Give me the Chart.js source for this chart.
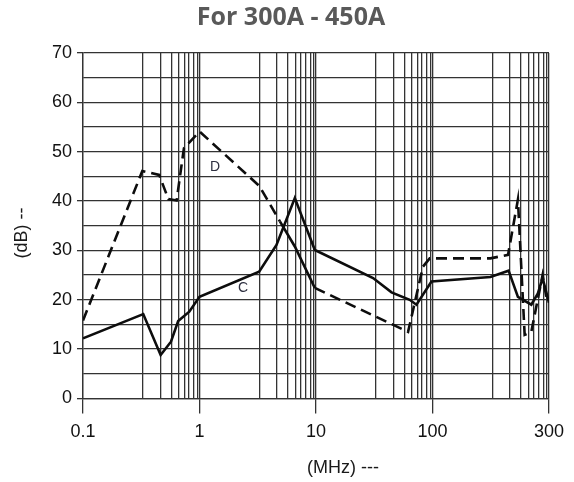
<!DOCTYPE html>
<html>
<head>
<meta charset="utf-8">
<script src="https://cdn.jsdelivr.net/npm/chart.js@4.4.1/dist/chart.umd.min.js"></script>
<style>
  html, body { margin: 0; padding: 0; background: #ffffff; }
  #wrap { width: 574px; height: 482px; }
</style>
</head>
<body>
<div id="wrap"><canvas id="c" width="574" height="482"></canvas></div>
<script>
// ---- data ----
const chartTitle = 'For 300A - 450A';
const xAxisTitle = '(MHz) ---';
const yAxisTitle = '(dB) --';

// x tick values (log scale) and their printed labels
const xMajorTicks = [0.1, 1, 10, 100, 1000];
const xTickLabels = ['0.1', '1', '10', '100', '300'];
// positions of minor grid lines inside each decade (fraction of decade)
const xMinorFractions = [0.515, 0.665, 0.76, 0.825, 0.87, 0.91, 0.95, 0.98];

// curve C (solid)
const freqC = [0.1, 0.329, 0.464, 0.569, 0.656, 0.817, 1.0, 3.25, 4.58, 6.58, 9.77, 30.9, 44.5, 63.7, 72.8, 98, 314, 450, 541, 705, 803, 881, 1000];
const valC  = [12.2, 17.1, 8.8, 11.5, 15.7, 17.6, 20.6, 25.7, 31.1, 40.6, 30.1, 24.4, 21.5, 20.0, 19.0, 23.7, 24.6, 25.9, 20.6, 19.0, 21.3, 24.4, 19.4];

// curve D (dashed)
const freqD = [0.1, 0.323, 0.451, 0.54, 0.636, 0.735, 1.0, 3.25, 4.9, 6.58, 9.77, 61.7, 82.8, 94.6, 314, 445, 541, 618, 705, 881, 950, 1000];
const valD  = [15.8, 46.1, 45.3, 40.4, 40.1, 50.7, 54.1, 43.1, 35.9, 30.8, 22.4, 13.5, 26.7, 28.4, 28.4, 29.1, 40.3, 12.9, 13.5, 25.0, 20.5, 19.8];
// frequency range where curve D is drawn solid
const solidRangeD = [4.9, 9.77];

// curve labels (data coordinates)
const curveLabels = [
  { text: 'D', f: 1.36, v: 46.8 },
  { text: 'C', f: 2.36, v: 22.4 }
];

// ---- chart ----
const GRID = '#333333';
const FONT = '"Liberation Sans", Arial, sans-serif';

function isMajor(v) {
  return xMajorTicks.some(m => Math.abs(m - v) / m < 1e-6);
}

const textPlugin = {
  id: 'textPlugin',
  afterDraw(chart) {
    const ctx = chart.ctx;
    const xs = chart.scales.x, ys = chart.scales.y;
    ctx.save();
    // title
    ctx.fillStyle = '#595959';
    ctx.font = 'bold 25px "Open Sans", sans-serif';
    ctx.textAlign = 'center';
    ctx.textBaseline = 'middle';
    ctx.fillText(chartTitle, 291, 18);
    // x axis title
    ctx.fillStyle = '#1a1a1a';
    ctx.font = '18px ' + FONT;
    ctx.fillText(xAxisTitle, 343, 468);
    // y axis title
    ctx.save();
    ctx.translate(22, 233);
    ctx.rotate(-Math.PI / 2);
    ctx.fillText(yAxisTitle, 0, 0);
    ctx.restore();
    // curve labels
    ctx.fillStyle = '#2e3040';
    ctx.font = '14px ' + FONT;
    curveLabels.forEach(l => {
      ctx.fillText(l.text, xs.getPixelForValue(l.f), ys.getPixelForValue(l.v));
    });
    ctx.restore();
  }
};

new Chart(document.getElementById('c'), {
  type: 'line',
  data: {
    datasets: [
      {
        label: 'C',
        data: freqC.map((f, i) => ({ x: f, y: valC[i] })),
        borderColor: '#0d0d0d',
        borderWidth: 2.6,
        pointRadius: 0,
        tension: 0,
        fill: false
      },
      {
        label: 'D',
        data: freqD.map((f, i) => ({ x: f, y: valD[i] })),
        borderColor: '#0d0d0d',
        borderWidth: 2.6,
        borderDash: [11, 6],
        pointRadius: 0,
        tension: 0,
        fill: false,
        segment: {
          borderDash: ctx => (ctx.p0.parsed.x >= solidRangeD[0] - 1e-9 && ctx.p1.parsed.x <= solidRangeD[1] + 1e-9) ? [] : [11, 6]
        }
      }
    ]
  },
  options: {
    responsive: false,
    devicePixelRatio: 1,
    animation: false,
    layout: { padding: { top: 53, right: 25, left: 0, bottom: 0 } },
    plugins: {
      legend: { display: false },
      title: { display: false },
      tooltip: { enabled: false }
    },
    scales: {
      x: {
        type: 'logarithmic',
        min: 0.1,
        max: 1000,
        afterBuildTicks(scale) {
          const t = [];
          for (let i = 0; i < xMajorTicks.length - 1; i++) {
            t.push({ value: xMajorTicks[i] });
            xMinorFractions.forEach(fr => t.push({ value: xMajorTicks[i] * Math.pow(10, fr) }));
          }
          t.push({ value: xMajorTicks[xMajorTicks.length - 1] });
          scale.ticks = t;
        },
        afterFit(scale) { scale.height = 83.5; },
        grid: {
          color: GRID,
          lineWidth: 1.3,
          drawTicks: true,
          tickLength: 15,
          tickColor: ctx => (ctx.tick && isMajor(ctx.tick.value)) ? GRID : 'rgba(0,0,0,0)'
        },
        border: { display: true, color: GRID, width: 1.3 },
        ticks: {
          autoSkip: false,
          maxRotation: 0,
          minRotation: 0,
          padding: 8,
          color: '#111111',
          font: { family: FONT, size: 18 },
          callback: (value) => {
            const i = xMajorTicks.findIndex(m => Math.abs(m - value) / m < 1e-6);
            return i >= 0 ? xTickLabels[i] : '';
          }
        }
      },
      y: {
        type: 'linear',
        min: 0,
        max: 70,
        afterFit(scale) { scale.width = 83; },
        grid: {
          color: GRID,
          lineWidth: 1.3,
          drawTicks: true,
          tickLength: 6,
          tickColor: ctx => (ctx.tick && ctx.tick.value % 10 === 0) ? GRID : 'rgba(0,0,0,0)'
        },
        border: { display: true, color: GRID, width: 1.3 },
        ticks: {
          stepSize: 5,
          autoSkip: false,
          padding: 5,
          color: '#111111',
          font: { family: FONT, size: 18 },
          callback: (v) => (v % 10 === 0 ? String(v) : '')
        }
      }
    }
  },
  plugins: [textPlugin]
});
</script>
</body>
</html>
